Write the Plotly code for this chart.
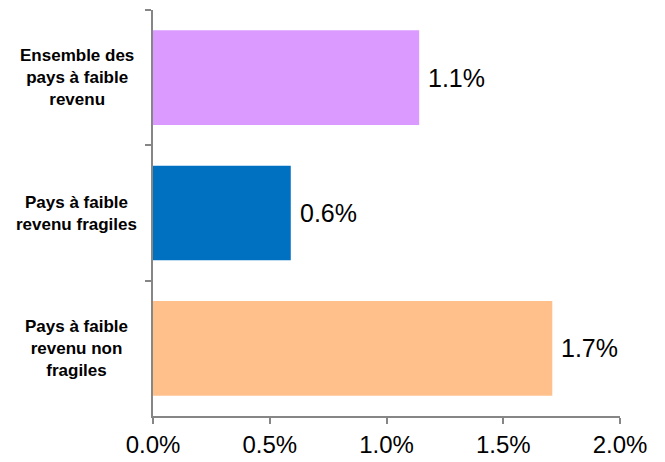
import plotly.graph_objects as go

categories = ["Ensemble des<br>pays à faible<br>revenu",
              "Pays à faible<br>revenu fragiles",
              "Pays à faible<br>revenu non<br>fragiles"]
values = [1.14, 0.59, 1.71]
colors = ["#DA9AFF", "#0070C0", "#FFC08C"]
x_ticks = [0.0, 0.5, 1.0, 1.5, 2.0]

font_family = "Arial, Liberation Sans, sans-serif"

fig = go.Figure(go.Bar(
    x=values, y=categories, orientation="h",
    marker=dict(color=colors, line=dict(width=0)),
    cliponaxis=False,
))

# category labels, centred like the original
for c in categories:
    fig.add_annotation(x=-0.163, xref="paper", y=c, yref="y", text=f"<b>{c}</b>",
                       showarrow=False, xanchor="center", align="center",
                       font=dict(size=17, color="#000000", family=font_family))

# value labels just right of each bar
for c, v in zip(categories, values):
    fig.add_annotation(x=v, y=c, text=f"{v:.1f}%", showarrow=False,
                       xanchor="left", xshift=7,
                       font=dict(size=25, color="#000000", family=font_family))

# page body has an 8px margin, so the figure is a bit smaller
fig.update_layout(
    width=657, height=454,
    margin=dict(l=145, r=45, t=2, b=46),
    plot_bgcolor="white", paper_bgcolor="white",
    showlegend=False, bargap=0.3,
    font=dict(family=font_family, color="#000000"),
)
fig.update_xaxes(
    range=[0, 2], tickvals=x_ticks, ticktext=[f"{t:.1f}%" for t in x_ticks],
    showgrid=False, zeroline=False, automargin=False,
    showline=True, linecolor="#868686", linewidth=2,
    ticks="outside", ticklen=6, tickcolor="#868686", tickwidth=2,
    tickfont=dict(size=24, family=font_family, color="#000000"),
)
fig.update_yaxes(
    autorange="reversed", showticklabels=False, showgrid=False, automargin=False,
    showline=True, linecolor="#868686", linewidth=2,
    ticks="outside", tickson="boundaries", ticklen=6, tickcolor="#868686", tickwidth=2,
)

fig.write_html("out.html")
